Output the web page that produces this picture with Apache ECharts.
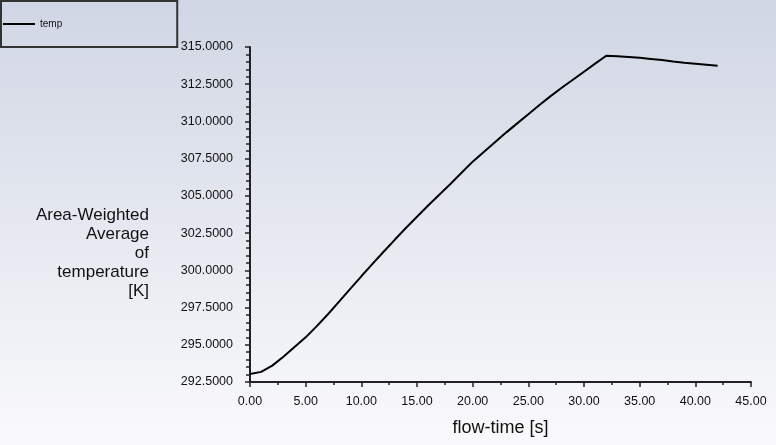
<!DOCTYPE html>
<html>
<head>
<meta charset="utf-8">
<script src="https://cdn.jsdelivr.net/npm/echarts@6/dist/echarts.min.js"></script>
<style>
html,body{margin:0;padding:0;}
#chart{width:776px;height:445px;}
</style>
</head>
<body>
<div id="chart"></div>
<script>
var seriesName = 'temp';
var flowTime = [0,1,2,3,4,5,6,7,8,9,10,11,12,13,14,15,16,17,18,19,20,21,22,23,24,25,26,27,28,29,30,31,32,33,34,35,36,37,38,39,40,41,42];
var temperature = [293.04,293.18,293.6,294.2,294.85,295.5,296.25,297.05,297.9,298.75,299.6,300.43,301.25,302.05,302.84,303.6,304.35,305.08,305.8,306.55,307.3,307.95,308.6,309.25,309.87,310.48,311.1,311.7,312.26,312.8,313.34,313.88,314.41,314.38,314.33,314.27,314.2,314.12,314.03,313.95,313.88,313.81,313.74];
var xAxisTitle = 'flow-time [s]';
var yAxisTitle = 'Area-Weighted\nAverage\nof\ntemperature\n[K]';

var points = flowTime.map(function(t, i){ return [t, temperature[i]]; });

var chart = echarts.init(document.getElementById('chart'));
var FONT = '"Liberation Sans", Arial, sans-serif';
chart.setOption({
  animation: false,
  backgroundColor: new echarts.graphic.LinearGradient(0, 0, 0, 1, [
    {offset: 0, color: '#d0d6e4'},
    {offset: 1, color: '#fafafc'}
  ]),
  textStyle: {fontFamily: FONT},
  legend: {
    left: 1, top: 1,
    orient: 'vertical',
    itemWidth: 32, itemHeight: 2,
    padding: [18, 115, 18, 2],
    borderColor: '#333', borderWidth: 2,
    itemStyle: {color: '#000'},
    textStyle: {fontSize: 10, color: '#111', fontFamily: FONT},
    data: [{name: seriesName, icon: 'rect'}]
  },
  grid: {left: 250, right: 25, top: 47, bottom: 63, containLabel: false},
  xAxis: {
    type: 'value', min: 0, max: 45, interval: 5,
    name: xAxisTitle, nameLocation: 'middle', nameGap: 37,
    nameTextStyle: {fontSize: 18, color: '#111', fontFamily: FONT},
    axisLine: {show: true, lineStyle: {color: '#222', width: 2}},
    axisTick: {show: true, length: 5, lineStyle: {color: '#222', width: 1.5}},
    minorTick: {show: true, splitNumber: 2, length: 3, lineStyle: {color: '#222', width: 1.5}},
    splitLine: {show: false},
    axisLabel: {fontSize: 12.5, color: '#111', margin: 13, fontFamily: FONT,
      formatter: function(v){ return v.toFixed(2); }}
  },
  yAxis: {
    type: 'value', min: 292.5, max: 315, interval: 2.5,
    axisLine: {show: true, lineStyle: {color: '#222', width: 2}},
    axisTick: {show: true, length: 5, lineStyle: {color: '#222', width: 1.5}},
    minorTick: {show: true, splitNumber: 5, length: 4, lineStyle: {color: '#222', width: 1.5}},
    splitLine: {show: false},
    axisLabel: {fontSize: 12.5, color: '#111', margin: 17, fontFamily: FONT,
      formatter: function(v){ return v.toFixed(4); }}
  },
  graphic: [{
    type: 'text', x: 149, y: 206,
    style: {text: yAxisTitle, fontSize: 17, lineHeight: 19, fill: '#111', align: 'right', verticalAlign: 'top', fontFamily: FONT}
  }],
  series: [{
    name: seriesName, type: 'line', data: points,
    showSymbol: false, symbol: 'none',
    lineStyle: {color: '#000', width: 2},
    itemStyle: {color: '#000'}
  }]
});
</script>
</body>
</html>
